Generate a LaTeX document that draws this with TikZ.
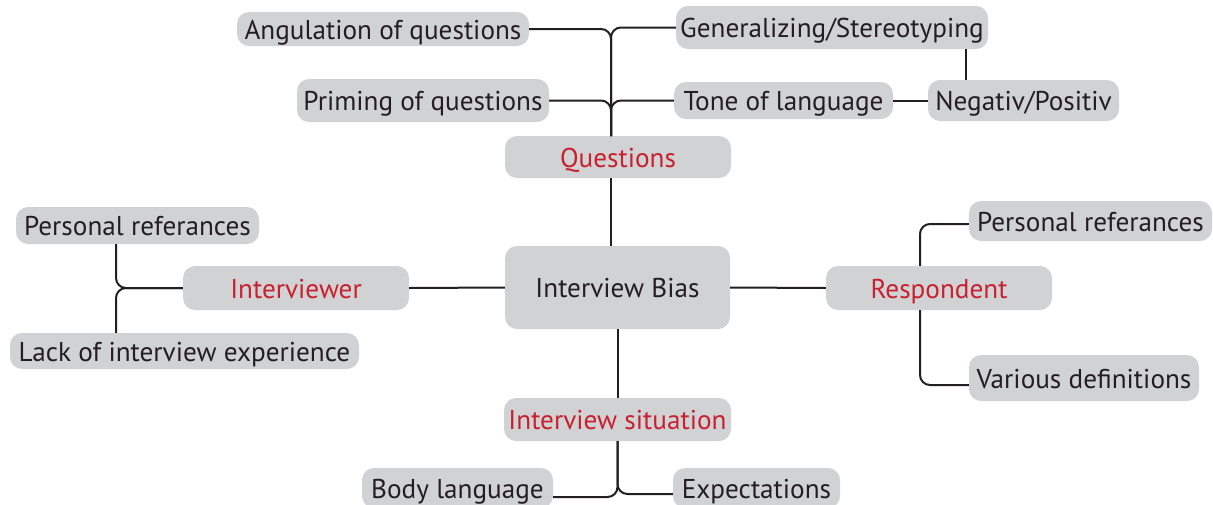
\documentclass[tikz,border=0pt]{standalone}
\usepackage{fontspec}
\setmainfont{PT Sans}
\definecolor{boxgray}{HTML}{D1D2D4}
\definecolor{headred}{HTML}{C8202F}
\definecolor{ink}{HTML}{231F20}
\begin{document}
\begin{tikzpicture}[x=1pt,y=-1pt,
  bubble/.style={rectangle, rounded corners=12pt, fill=boxgray, inner sep=0pt,
    font=\fontsize{27.2}{30}\selectfont, text=ink,
    text height=20.5pt, text depth=0pt},
  topic/.style={bubble, text=headred},
  link/.style={draw=ink, line width=2pt, rounded corners=10pt}]
\useasboundingbox (0,0) rectangle (1213,504);

% central node and main topics
\node[bubble, minimum width=225pt, minimum height=83pt] (bias) at (617.5,287.5) {Interview Bias};
\node[topic, minimum width=226pt, minimum height=42pt] (ques) at (618,157) {Questions};
\node[topic, minimum width=226pt, minimum height=44pt] (iv) at (296,288) {Interviewer};
\node[topic, minimum width=226pt, minimum height=44pt] (resp) at (939,288) {Respondent};
\node[topic, minimum width=227pt, minimum height=43pt] (sit) at (617.5,419.5) {Interview situation};

% question branch
\node[bubble, minimum width=292pt, minimum height=34pt] (ang) at (383,29) {Angulation of questions};
\node[bubble, minimum width=252pt, minimum height=43pt] (prim) at (423,100.5) {Priming of questions};
\node[bubble, minimum width=312pt, minimum height=43pt] (gen) at (832,27.5) {Generalizing/Stereotyping};
\node[bubble, minimum width=219pt, minimum height=37pt] (tone) at (783.5,100.5) {Tone of language};
\node[bubble, minimum width=191pt, minimum height=41pt] (neg) at (1023.5,100.5) {Negativ/Positiv};

% interviewer branch
\node[bubble, minimum width=243pt, minimum height=37pt] (prefL) at (137.5,225.5) {Personal referances};
\node[bubble, minimum width=349pt, minimum height=36pt] (lack) at (184.5,351) {Lack of interview experience};

% respondent branch
\node[bubble, minimum width=243pt, minimum height=40pt] (prefR) at (1090.5,221) {Personal referances};
\node[bubble, minimum width=230pt, minimum height=46pt] (var) at (1084,378) {Various definitions};

% situation branch
\node[bubble, minimum width=191pt, minimum height=40pt] (body) at (457.5,488) {Body language};
\node[bubble, minimum width=167pt, minimum height=40pt] (exp) at (756.5,488) {Expectations};

% helper coordinates for trunks
\coordinate (qt) at (611,136);
\coordinate (gn) at (966,0);
\coordinate (ivf) at (116,288);
\coordinate (rf) at (920,0);

% connectors
\draw[link] (ang.east) -| (qt);
\draw[link] (gen.west) -| (qt);
\draw[link] (prim.east) -| (qt);
\draw[link] (tone.west) -| (qt);
\draw[link] (qt |- ques.south) -- (qt |- bias.north);
\draw[link] (gn |- gen.south) -- (gn |- neg.north);
\draw[link] (tone.east) -- (neg.west);

\draw[link] (bias.west) -- (iv.east);
\draw[link] (ivf |- prefL.south) |- (iv.west);
\draw[link] (ivf |- lack.north) |- (iv.west);

\draw[link] (bias.east) -- (resp.west);
\draw[link] (rf |- resp.north) |- ([yshift=-3pt]prefR.west);
\draw[link] (rf |- resp.south) |- ([yshift=-7pt]var.west);

\draw[link] (bias.south) -- (sit.north);
\draw[link] (sit.south) |- ([yshift=-9pt]body.east);
\draw[link] (sit.south) |- ([yshift=-6pt]exp.west);
\end{tikzpicture}
\end{document}
